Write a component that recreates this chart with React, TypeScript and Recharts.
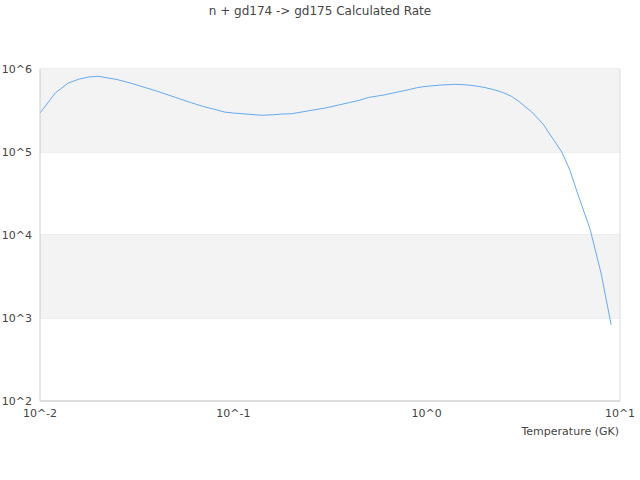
import React from 'react';
import { LineChart, Line, XAxis, YAxis, CartesianGrid, ReferenceArea, ReferenceLine } from 'recharts';

// temperature grid (GK) and calculated rate
const temperatures = [
  0.01, 0.012, 0.014, 0.016, 0.018, 0.02, 0.025, 0.03, 0.035, 0.04,
  0.05, 0.06, 0.07, 0.08, 0.09, 0.1, 0.12, 0.14, 0.16, 0.18,
  0.2, 0.25, 0.3, 0.35, 0.4, 0.45, 0.5, 0.6, 0.7, 0.8,
  0.9, 1, 1.2, 1.4, 1.6, 1.8, 2, 2.25, 2.5, 2.75,
  3, 3.5, 4, 4.5, 5, 5.5, 6, 7, 8, 9,
];
const rates = [
  2.95e5, 5.14e5, 6.78e5, 7.58e5, 8.02e5, 8.17e5, 7.47e5, 6.68e5, 5.98e5, 5.43e5,
  4.56e5, 3.95e5, 3.53e5, 3.27e5, 3.03e5, 2.95e5, 2.85e5, 2.77e5, 2.81e5, 2.87e5,
  2.89e5, 3.16e5, 3.39e5, 3.68e5, 3.95e5, 4.2e5, 4.54e5, 4.86e5, 5.25e5, 5.61e5,
  5.98e5, 6.19e5, 6.42e5, 6.54e5, 6.45e5, 6.24e5, 5.98e5, 5.59e5, 5.17e5, 4.67e5,
  4.06e5, 3.03e5, 2.17e5, 1.44e5, 1.0e5, 6.07e4, 3.3e4, 1.18e4, 3.39e3, 8.25e2,
];
const xTicks = [0.01, 0.1, 1, 10];
const yTicks = [1e2, 1e3, 1e4, 1e5, 1e6];
const greyBands = [[1e5, 1e6], [1e3, 1e4]];

const title = 'n + gd174 -> gd175 Calculated Rate';
const xTitle = 'Temperature (GK)';

const FONT = '"DejaVu Sans", sans-serif';
const TEXT = '#444';

const powerLabel = (v: number) => `10^${Math.round(Math.log10(v))}`;

export default function App() {
  const data = temperatures.map((t, i) => ({ t, rate: rates[i] }));

  return (
    <div style={{ position: 'absolute', left: 0, top: 0, width: 640, height: 480, fontFamily: FONT }}>
      <div
        style={{
          position: 'absolute',
          top: 4,
          left: 0,
          width: 640,
          textAlign: 'center',
          fontSize: 12,
          color: TEXT,
        }}
      >
        {title}
      </div>
      <LineChart
        width={640}
        height={480}
        data={data}
        margin={{ top: 69, right: 20, bottom: 49, left: 0 }}
      >
        {greyBands.map(([lo, hi]) => (
          <ReferenceArea key={lo} y1={lo} y2={hi} fill="#f3f3f3" fillOpacity={1} stroke="none" />
        ))}
        <CartesianGrid vertical={false} stroke="#dddddd" />
        <XAxis
          dataKey="t"
          type="number"
          scale="log"
          domain={[0.01, 10]}
          ticks={xTicks}
          allowDataOverflow
          tickFormatter={powerLabel}
          tickLine={false}
          axisLine={{ stroke: '#cccccc' }}
          tick={{ fontSize: 11, fill: TEXT, fontFamily: FONT }}
          height={30}
          label={({ viewBox }: any) => (
            <text
              x={viewBox.x + viewBox.width - 1}
              y={viewBox.y + 34}
              textAnchor="end"
              fontSize={11}
              fill={TEXT}
              fontFamily={FONT}
            >
              {xTitle}
            </text>
          )}
        />
        <YAxis
          type="number"
          scale="log"
          domain={[1e2, 1e6]}
          ticks={yTicks}
          allowDataOverflow
          tickFormatter={powerLabel}
          tickLine={false}
          axisLine={{ stroke: '#cccccc' }}
          tick={{ fontSize: 11, fill: TEXT, fontFamily: FONT }}
          width={40}
        />
        <ReferenceLine x={10} stroke="#dddddd" />
        <Line
          type="linear"
          dataKey="rate"
          stroke="#64aaf0"
          strokeWidth={1}
          dot={false}
          isAnimationActive={false}
        />
      </LineChart>
    </div>
  );
}
